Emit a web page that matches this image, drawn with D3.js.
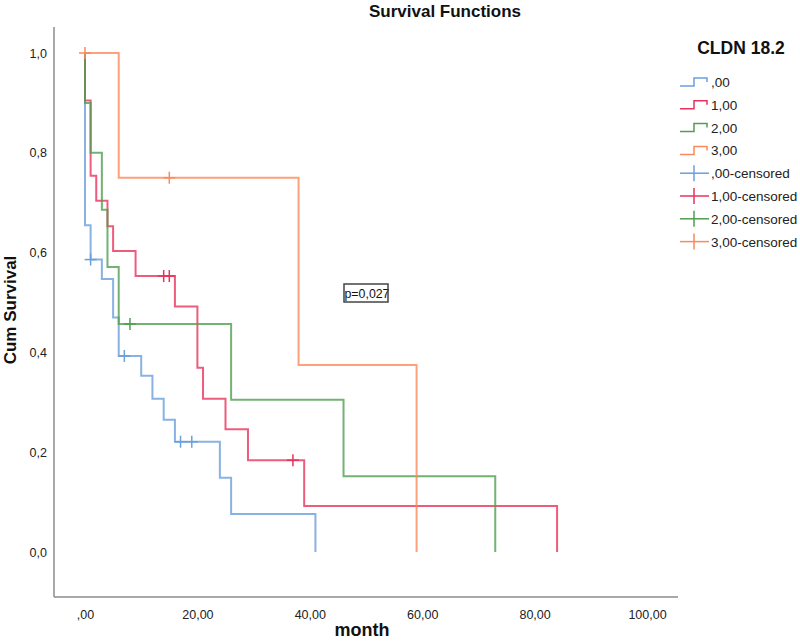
<!DOCTYPE html>
<html>
<head>
<meta charset="utf-8">
<script src="https://cdn.jsdelivr.net/npm/d3@7"></script>
<style>
  html, body { margin: 0; padding: 0; background: #ffffff; }
  svg { display: block; }
</style>
</head>
<body>
<div id="chart"></div>
<script>
// ---- data ----
const groups = [",00", "1,00", "2,00", "3,00"];
const legendLabels = [",00", "1,00", "2,00", "3,00",
  ",00-censored", "1,00-censored", "2,00-censored", "3,00-censored"];

const blueTimes = [0, 1, 3, 5, 6, 10, 12, 14, 16, 24, 26, 41];
const blueSurv  = [0.655, 0.586, 0.547, 0.470, 0.393, 0.353, 0.307, 0.265, 0.221, 0.149, 0.076, 0];
const blueCens  = [1, 7, 17, 19];

const redTimes = [0, 1, 2, 4, 5, 9, 16, 20, 21, 25, 29, 39, 84];
const redSurv  = [0.905, 0.754, 0.704, 0.653, 0.603, 0.553, 0.492, 0.369, 0.307, 0.246, 0.184, 0.092, 0];
const redCens  = [14, 15, 37];

const greenTimes = [0, 1, 3, 4, 6, 26, 46, 73];
const greenSurv  = [0.9, 0.8, 0.686, 0.571, 0.457, 0.305, 0.152, 0];
const greenCens  = [8];

const orangeTimes = [6, 38, 59];
const orangeSurv  = [0.75, 0.375, 0];
const orangeCens  = [0, 15];

const xTicks = [0, 20, 40, 60, 80, 100];
const xTickLabels = [",00", "20,00", "40,00", "60,00", "80,00", "100,00"];
const yTicks = [0, 0.2, 0.4, 0.6, 0.8, 1.0];
const yTickLabels = ["0,0", "0,2", "0,4", "0,6", "0,8", "1,0"];
const pText = "p=0,027";

const colors = ["#6b9fdc", "#e8335c", "#4f9f4f", "#fb8a5a"];

// ---- layout ----
const W = 800, H = 641;
const axisLeft = 54, axisRight = 678, axisTop = 27, axisBottom = 597;

const svg = d3.select("#chart").append("svg").attr("width", W).attr("height", H);

const x = d3.scaleLinear().domain([0, 100]).range([85, 647]);
const y = d3.scaleLinear().domain([0, 1]).range([552, 53]);

const mainFont = "'Liberation Sans', Arial, sans-serif";

// title
svg.append("text").attr("x", 445).attr("y", 17).attr("text-anchor", "middle")
  .attr("font-family", mainFont).attr("font-weight", "bold").attr("font-size", 17)
  .attr("fill", "#111").text("Survival Functions");

// axes lines
svg.append("line").attr("x1", axisLeft).attr("x2", axisLeft).attr("y1", axisTop).attr("y2", axisBottom)
  .attr("stroke", "#8c8c8c").attr("stroke-width", 1.5);
svg.append("line").attr("x1", axisLeft).attr("x2", axisRight).attr("y1", axisBottom).attr("y2", axisBottom)
  .attr("stroke", "#8c8c8c").attr("stroke-width", 1.5);

// tick labels via d3 axes (no tick marks, no domain)
const xAxis = d3.axisBottom(x).tickValues(xTicks).tickSize(0)
  .tickFormat((d, i) => xTickLabels[i]);
const gx = svg.append("g").attr("transform", `translate(0,${axisBottom})`).call(xAxis);
gx.select(".domain").remove();
gx.selectAll("text").attr("dy", null).attr("y", 22)
  .attr("font-family", mainFont).attr("font-size", 12.5).attr("fill", "#222");

const yAxis = d3.axisLeft(y).tickValues(yTicks).tickSize(0)
  .tickFormat((d, i) => yTickLabels[i]);
const gy = svg.append("g").attr("transform", `translate(${axisLeft},0)`).call(yAxis);
gy.select(".domain").remove();
gy.selectAll("text").attr("x", -7)
  .attr("font-family", mainFont).attr("font-size", 12.5).attr("fill", "#222");

// axis titles
svg.append("text").attr("x", 362).attr("y", 636).attr("text-anchor", "middle")
  .attr("font-family", mainFont).attr("font-weight", "bold").attr("font-size", 18)
  .attr("fill", "#111").text("month");
svg.append("text").attr("transform", "translate(16,310) rotate(-90)").attr("text-anchor", "middle")
  .attr("font-family", mainFont).attr("font-weight", "bold").attr("font-size", 17)
  .attr("fill", "#111").text("Cum Survival");

// curves
const series = [
  { times: blueTimes, surv: blueSurv, cens: blueCens },
  { times: redTimes, surv: redSurv, cens: redCens },
  { times: greenTimes, surv: greenSurv, cens: greenCens },
  { times: orangeTimes, surv: orangeSurv, cens: orangeCens }
];

function survAt(s, t) {
  let v = 1;
  for (let i = 0; i < s.times.length; i++) { if (s.times[i] <= t) v = s.surv[i]; }
  return v;
}

const line = d3.line().x(d => x(d[0])).y(d => y(d[1])).curve(d3.curveStepAfter);

series.forEach((s, gi) => {
  const pts = [[0, 1]].concat(s.times.map((t, i) => [t, s.surv[i]]));
  svg.append("path").attr("d", line(pts)).attr("fill", "none")
    .attr("stroke", colors[gi]).attr("stroke-width", 2).attr("stroke-opacity", 0.8);
  s.cens.forEach(t => {
    const cx = x(t), cy = y(survAt(s, t));
    svg.append("line").attr("x1", cx).attr("x2", cx).attr("y1", cy - 6).attr("y2", cy + 6)
      .attr("stroke", colors[gi]).attr("stroke-width", 1.5);
    svg.append("line").attr("x1", cx - 6).attr("x2", cx + 6).attr("y1", cy).attr("y2", cy)
      .attr("stroke", colors[gi]).attr("stroke-width", 1.5);
  });
});

// p-value box
const pg = svg.append("g").attr("transform", "translate(344,284)");
pg.append("rect").attr("width", 44).attr("height", 18).attr("fill", "#fff");
pg.append("text").attr("x", 23).attr("y", 14).attr("text-anchor", "middle")
  .attr("font-family", mainFont).attr("font-size", 12.5).attr("fill", "#111")
  .attr("textLength", 45).attr("lengthAdjust", "spacingAndGlyphs").text(pText);
pg.append("rect").attr("width", 44).attr("height", 18).attr("fill", "none")
  .attr("stroke", "#444").attr("stroke-width", 1.5);

// legend
svg.append("text").attr("x", 741).attr("y", 54).attr("text-anchor", "middle")
  .attr("font-family", mainFont).attr("font-weight", "bold").attr("font-size", 17.5)
  .attr("fill", "#111").text("CLDN 18.2");

const legY0 = 82, legDy = 22.8;
legendLabels.forEach((lab, i) => {
  const cy = legY0 + i * legDy;
  const c = colors[i % 4];
  const g = svg.append("g");
  if (i < 4) {
    g.append("path").attr("d", `M680,${cy + 4}H694V${cy - 4}H707V${cy}`)
      .attr("fill", "none").attr("stroke", c).attr("stroke-width", 1.5);
  } else {
    g.append("line").attr("x1", 680).attr("x2", 709).attr("y1", cy).attr("y2", cy)
      .attr("stroke", c).attr("stroke-width", 1.5);
    g.append("line").attr("x1", 694).attr("x2", 694).attr("y1", cy - 8).attr("y2", cy + 8)
      .attr("stroke", c).attr("stroke-width", 1.5);
  }
  g.append("text").attr("x", 711).attr("y", cy + 5)
    .attr("font-family", mainFont).attr("font-size", 13.5).attr("fill", "#222").text(lab);
});
</script>
</body>
</html>
